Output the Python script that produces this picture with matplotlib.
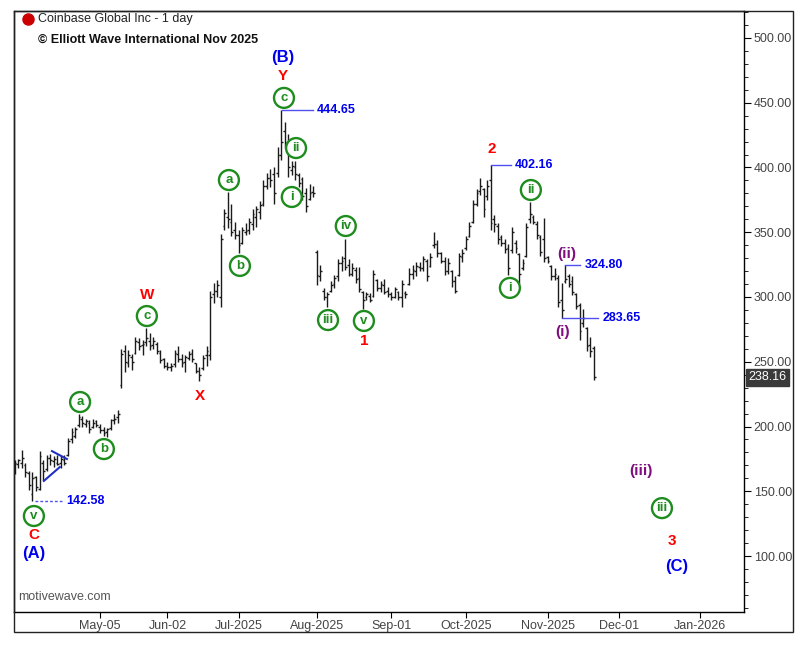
import numpy as np
import pandas as pd
import matplotlib
matplotlib.use("Agg")
import matplotlib.pyplot as plt
from matplotlib.patches import Rectangle
from matplotlib.ticker import MultipleLocator, FormatStrFormatter
import matplotlib.transforms as mtransforms

plt.rcParams['font.family'] = ['Liberation Sans', 'DejaVu Sans']

# trading days shown (Mar 31 .. Nov 20, 2025)
holidays = ['2025-04-18', '2025-05-26', '2025-06-19', '2025-07-04', '2025-09-01']
dates = pd.bdate_range('2025-03-31', '2025-11-20')
dates = dates[~dates.isin(pd.to_datetime(holidays))]

opens = [
    166, 171, 172, 170, 164, 148, 161, 152, 172, 167,
    176, 173, 172, 172, 174, 178, 190, 193, 201, 206,
    202, 203, 200, 204, 200, 197, 196, 199, 205, 207,
    232, 258, 249, 254, 257, 265, 263, 265, 266, 263,
    264, 257, 252, 247, 246, 248, 256, 252, 250, 253,
    257, 249, 243, 245, 255, 255, 302, 305, 300, 355,
    362, 358, 352, 348, 342, 350, 352, 356, 362, 366,
    372, 386, 392, 395, 396, 410, 428, 420, 398, 400,
    394, 391, 380, 376, 381, 335, 316, 305, 300, 305,
    310, 316, 326, 330, 325, 318, 321, 315, 304, 300,
    301, 301, 313, 307, 309, 305, 302, 300, 304, 300,
    303, 310, 318, 320, 323, 322, 328, 324, 340, 341,
    334, 328, 320, 320, 312, 317, 331, 338, 347, 358,
    372, 382, 383, 378, 390, 360, 355, 346, 342, 338,
    336, 342, 333, 322, 332, 360, 362, 356, 346, 345,
    331, 324, 316, 315, 298, 312, 316, 312, 302, 294,
    280, 276, 263, 261,
]
highs = [
    174, 175, 182, 172, 166, 165, 162, 181, 174, 178,
    179, 177, 178, 177, 178, 191, 199, 200, 210, 208,
    206, 205, 206, 205, 202, 200, 199, 206, 210, 213,
    260, 263, 259, 256, 269, 268, 267, 276, 272, 269,
    265, 259, 253, 250, 249, 259, 262, 256, 255, 258,
    260, 249, 246, 255, 262, 305, 311, 313, 349, 368,
    381, 372, 358, 352, 354, 357, 361, 368, 370, 374,
    390, 396, 399, 400, 416, 444.65, 435, 426, 405, 405,
    396, 393, 384, 387, 386, 336, 325, 307, 304, 312,
    317, 329, 332, 345, 329, 326, 323, 323, 305, 304,
    303, 321, 314, 312, 314, 308, 304, 308, 305, 313,
    305, 322, 325, 327, 327, 332, 329, 334, 350, 344,
    335, 331, 330, 321, 316, 334, 337, 347, 358, 375,
    383, 392, 384, 390, 402.16, 363, 357, 348, 345, 341,
    354, 344, 334, 329, 357, 373.6, 363, 359, 348, 361,
    332, 325, 322, 317, 310.5, 324.8, 318, 316, 303, 295,
    291, 277, 269, 262,
]
lows = [
    163, 168, 168, 161, 151, 142.58, 150, 151, 159, 166,
    170, 169, 170, 168, 170, 177, 187, 191, 200, 200,
    200, 195, 199, 200, 195, 193, 192, 197, 202, 203,
    230, 242, 246, 244, 256, 259, 255, 262, 259, 260,
    256, 249, 245, 244, 243, 246, 250, 246, 242, 251,
    250, 241, 235, 244, 247, 251, 295, 300, 292, 352,
    353, 347, 345, 334, 341, 348, 349, 352, 354, 360,
    370, 383, 385, 372, 393, 406, 415, 393, 394, 390,
    385, 375, 366, 375, 377, 309, 312, 298, 292.5, 304,
    307, 312, 320, 321, 316, 316, 311, 304, 291, 298,
    296, 300, 305, 304, 302, 300, 298, 299, 298, 292.5,
    299, 309, 314, 316, 320, 320, 312, 323, 338, 331,
    326, 317, 318, 308, 303, 316, 327, 336, 346, 357,
    370, 379, 362, 375, 352, 350, 341, 339, 334, 317,
    334, 334, 310, 321, 331, 357, 356, 345, 332, 327,
    326, 313, 313, 292.5, 283.65, 310.5, 308, 301.5, 291, 267,
    277, 258, 254, 236,
]
closes = [
    172, 174, 176, 165, 155, 160, 153, 177, 166, 176,
    174, 175, 171, 175, 172, 189, 196, 198, 207, 203,
    204, 198, 203, 201, 197, 195, 198, 205, 206, 210,
    256, 250, 255, 250, 266, 262, 264, 268, 262, 266,
    258, 251, 247, 246, 247, 257, 252, 249, 254, 256,
    252, 243, 240, 253, 258, 300, 305, 309, 345, 365,
    360, 350, 348, 340, 352, 351, 358, 364, 368, 371,
    386, 392, 390, 380, 410, 420, 418, 400, 401, 395,
    388, 378, 370, 380, 380, 317, 320, 300, 302, 309,
    315, 326, 328, 323, 318, 322, 314, 306, 298, 302,
    298, 318, 307, 310, 304, 302, 300, 306, 300, 310,
    302, 318, 321, 324, 322, 329, 316, 331, 341, 334,
    328, 320, 326, 312, 305, 332, 334, 345, 355, 372,
    380, 386, 368, 386, 357, 356, 345, 342, 337, 322,
    350, 338, 318, 326, 354, 364, 358, 348, 335, 330,
    328, 316, 318, 296, 290, 314, 310, 304, 293, 274,
    284, 262, 258, 238.16,
]

tick_dates = ['2025-05-05', '2025-06-02', '2025-07-01', '2025-08-01', '2025-09-01',
              '2025-10-01', '2025-11-01', '2025-12-01', '2026-01-01']
tick_labels = ['May-05', 'Jun-02', 'Jul-2025', 'Aug-2025', 'Sep-01',
               'Oct-2025', 'Nov-2025', 'Dec-01', 'Jan-2026']

GREEN = '#1e8c1e'
RED = '#ff0000'
BLUE = '#0000ee'
PURPLE = '#7f0f7f'

# x = trading day index, May 05 = 0
origin = dates.get_loc(pd.Timestamp('2025-05-05'))
x = np.arange(len(dates)) - origin
calendar = dates.append(pd.bdate_range('2025-11-21', '2026-02-27'))
tick_pos = [calendar.searchsorted(pd.Timestamp(d)) - origin for d in tick_dates]

fig = plt.figure(figsize=(8.1, 6.46), dpi=100)
W, H = 810, 646
ax = fig.add_axes([14 / W, 1 - 612 / H, 730 / W, 601 / H])

bar_col = '#1a1a1a'
ax.vlines(x, lows, highs, color=bar_col, lw=1.0)
ax.hlines(opens, x - 0.5, x, color=bar_col, lw=1.0)
ax.hlines(closes, x, x + 0.5, color=bar_col, lw=1.0)

ax.set_xlim(-24.2, 181.3)
ax.set_ylim(56.8, 520.8)

ax.yaxis.tick_right()
ax.yaxis.set_major_locator(MultipleLocator(50))
ax.yaxis.set_minor_locator(MultipleLocator(10))
ax.yaxis.set_major_formatter(FormatStrFormatter('%.2f'))
ax.set_yticks([100, 150, 200, 250, 300, 350, 400, 450, 500])
ax.tick_params(axis='y', which='major', length=5, labelsize=9, labelcolor='#444444', pad=2)
ax.tick_params(axis='y', which='minor', length=3)
ax.set_xticks(tick_pos)
ax.set_xticklabels(tick_labels)
ax.tick_params(axis='x', length=4, labelsize=9, labelcolor='#444444', pad=2)
for s in ax.spines.values():
    s.set_linewidth(1)

# outer frame around the chart and the axis strips
fig.patches.append(Rectangle((14 / W, 1 - 632 / H), 779 / W, 621 / H, transform=fig.transFigure,
                             fill=False, ec='#222222', lw=1))

# header
ax.plot([0.019], [0.987], 'o', color='#cc0000', ms=8, transform=ax.transAxes, clip_on=False)
ax.text(0.033, 0.987, 'Coinbase Global Inc - 1 day', transform=ax.transAxes,
        fontsize=9, color='#222222', va='center', ha='left')
ax.text(0.033, 0.952, '\u00a9 Elliott Wave International Nov 2025', transform=ax.transAxes,
        fontsize=9, fontweight='bold', color='#111111', va='center', ha='left')
ax.text(0.006, 0.015, 'motivewave.com', transform=ax.transAxes, fontsize=9,
        color='#555555', va='bottom', ha='left')


def circ(xi, p, t):
    ax.text(xi, p, t, color=GREEN, fontsize=9.5, fontweight='bold', ha='center', va='center',
            bbox=dict(boxstyle='circle,pad=0.3', fc='white', ec=GREEN, lw=1.7))


def lab(xi, p, t, c, size=11):
    ax.text(xi, p, t, color=c, fontsize=size, fontweight='bold', ha='center', va='center')


def level(x0, x1, p, t, ls='-'):
    ax.plot([x0, x1], [p, p], color='#5050f0', lw=1, ls=ls)
    ax.text(x1 + 1.2, p, t, color=BLUE, fontsize=9, fontweight='bold', ha='left', va='center')


# wave labels
lab(51.5, 484.6, '(B)', BLUE, 12)
lab(51.5, 470.7, 'Y', RED)
circ(51.8, 453.7, 'c')
circ(55.2, 415.0, 'ii')
circ(54.0, 377.2, 'i')
circ(36.3, 390.3, 'a')
circ(39.4, 324.0, 'b')
lab(13.2, 301.5, 'W', RED)
circ(13.2, 285.3, 'c')
lab(28.1, 223.6, 'X', RED)
circ(-5.6, 218.9, 'a')
circ(1.1, 182.6, 'b')
circ(-18.6, 130.9, 'v')
lab(-18.6, 116.2, 'C', RED)
lab(-18.6, 102.3, '(A)', BLUE, 12)
circ(69.2, 354.8, 'iv')
circ(64.2, 282.2, 'iii')
circ(74.3, 281.5, 'v')
lab(74.3, 266.0, '1', RED)
lab(110.3, 414.3, '2', RED)
circ(121.3, 382.6, 'ii')
circ(115.4, 307.0, 'i')
lab(131.4, 333.2, '(ii)', PURPLE)
lab(130.3, 273.0, '(i)', PURPLE)
lab(152.3, 165.6, '(iii)', PURPLE)
circ(158.2, 137.0, 'iii')
lab(161.0, 111.6, '3', RED)
lab(162.4, 92.3, '(C)', BLUE, 12)

# price levels
level(51.3, 59.9, 444.65, '444.65')
level(110.0, 115.7, 402.16, '402.16')
level(131.0, 135.2, 324.80, '324.80')
level(130.0, 140.2, 283.65, '283.65')
level(-18.4, -10.6, 142.58, '142.58', ls=(0, (2, 1.5)))

# triangle
ax.plot([-15.8, -11.3], [158.0, 168.7], color='#2030c0', lw=1.5)
ax.plot([-13.5, -9.3], [181.0, 174.9], color='#2030c0', lw=1.5)

# last price marker
trans = mtransforms.blended_transform_factory(ax.transAxes, ax.transData)
ax.text(1.006, closes[-1], '%.2f' % closes[-1], transform=trans, color='white', fontsize=9,
        ha='left', va='center', clip_on=False,
        bbox=dict(boxstyle='square,pad=0.2', fc='#3a3a3a', ec='#3a3a3a'))

fig.savefig('out.png', dpi=100)
